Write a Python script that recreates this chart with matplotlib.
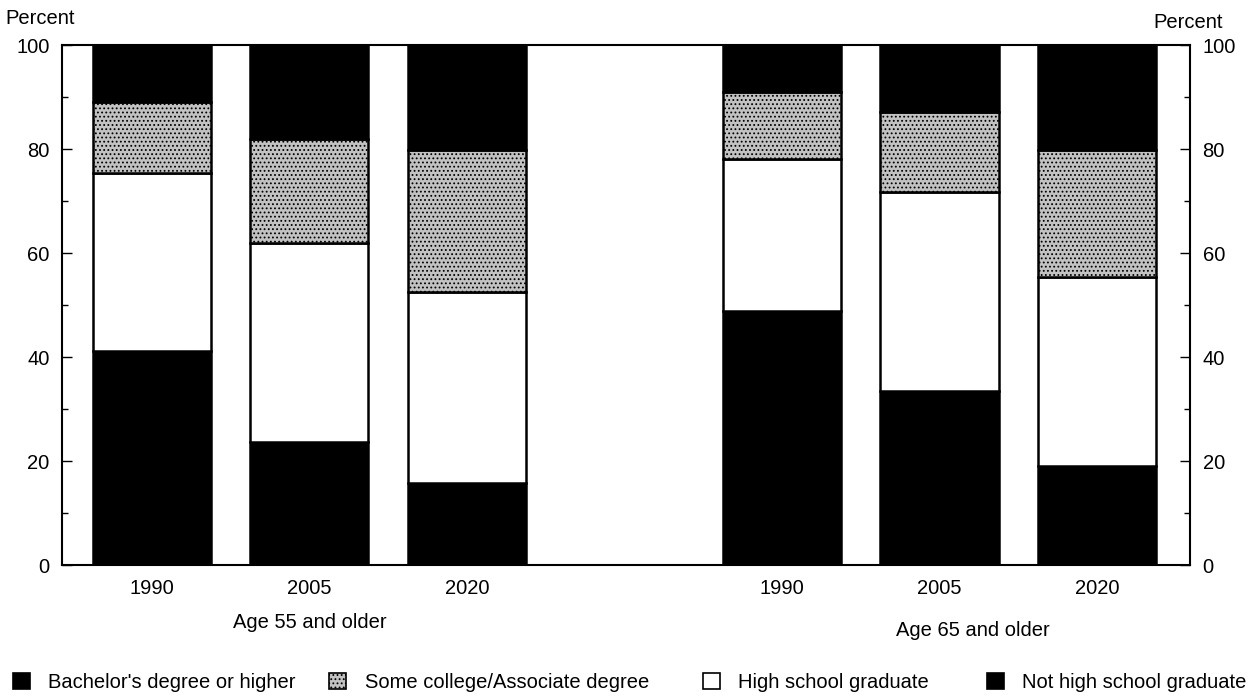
import matplotlib
matplotlib.use("Agg")
import matplotlib.pyplot as plt
import numpy as np
from matplotlib.patches import Patch

plt.rcParams['font.family'] = ['Liberation Sans', 'DejaVu Sans']
plt.rcParams['hatch.color'] = '#ffffff'
plt.rcParams['hatch.linewidth'] = 0.8

# data (percent), order: 55+ 1990, 2005, 2020, 65+ 1990, 2005, 2020
years = ["1990", "2005", "2020", "1990", "2005", "2020"]
positions = [0, 1, 2, 4, 5, 6]
not_hs = [41.2, 23.6, 15.8, 48.8, 33.5, 19.0]
hs_grad = [34.2, 38.4, 36.8, 29.3, 38.2, 36.4]
some_college = [13.7, 19.9, 27.3, 12.9, 15.5, 24.5]
bachelors = [10.9, 18.1, 20.1, 9.0, 12.8, 20.1]
groups = ["Age 55 and older", "Age 65 and older"]

fs = 14.5
gray = '#c2c2c2'

fig = plt.figure(figsize=(12.57, 6.98), dpi=100)
ax = fig.add_axes([0.0493, 0.1905, 0.8974, 0.745])

w = 0.75
lw = 1.8
bottom = np.zeros(len(positions))
ax.bar(positions, not_hs, w, bottom=bottom, color='black', edgecolor='black', linewidth=lw)
bottom += np.array(not_hs)
ax.bar(positions, hs_grad, w, bottom=bottom, color='white', edgecolor='black', linewidth=lw)
bottom += np.array(hs_grad)
ax.bar(positions, some_college, w, bottom=bottom, color=gray, edgecolor='black',
       linewidth=lw, hatch='....')
bottom += np.array(some_college)
ax.bar(positions, bachelors, w, bottom=bottom, color='black', edgecolor='black', linewidth=lw)

ax.set_xlim(-0.57, 6.59)
ax.set_ylim(0, 100)
for s in ax.spines.values():
    s.set_linewidth(1.5)

ax.set_yticks([0, 20, 40, 60, 80, 100])
ax.set_yticks([10, 30, 50, 70, 90], minor=True)
ax.tick_params(axis='y', which='major', direction='in', length=7, width=1, labelsize=fs, pad=9,
               left=True, right=True, labelleft=True, labelright=True)
ax.tick_params(axis='y', which='minor', direction='in', length=4, width=1, left=True, right=True)
ax.set_xticks(positions)
ax.set_xticklabels(years)
ax.tick_params(axis='x', length=0, labelsize=fs, pad=10)

tr = ax.get_xaxis_transform()
ax.text(1.0, -0.111, groups[0], transform=tr, ha='center', va='center', fontsize=fs)
ax.text(5.21, -0.125, groups[1], transform=tr, ha='center', va='center', fontsize=fs)

fig.text(0.032, 0.974, "Percent", ha='center', va='center', fontsize=fs)
fig.text(0.945, 0.968, "Percent", ha='center', va='center', fontsize=fs)

# legend entries spread along the bottom
legend_items = [
    ("Bachelor's degree or higher", dict(facecolor='black', edgecolor='black'), 0.010),
    ("Some college/Associate degree", dict(facecolor=gray, edgecolor='black', hatch='....'), 0.262),
    ("High school graduate", dict(facecolor='white', edgecolor='black'), 0.559),
    ("Not high school graduate", dict(facecolor='black', edgecolor='black'), 0.785),
]
for label, style, x in legend_items:
    fig.legend(handles=[Patch(label=label, linewidth=1.2, **style)], loc='center left',
               bbox_to_anchor=(x, 0.022), frameon=False, fontsize=fs,
               handlelength=0.85, handleheight=0.85, handletextpad=0.9, borderaxespad=0,
               borderpad=0)

fig.savefig("out.png", dpi=100)
